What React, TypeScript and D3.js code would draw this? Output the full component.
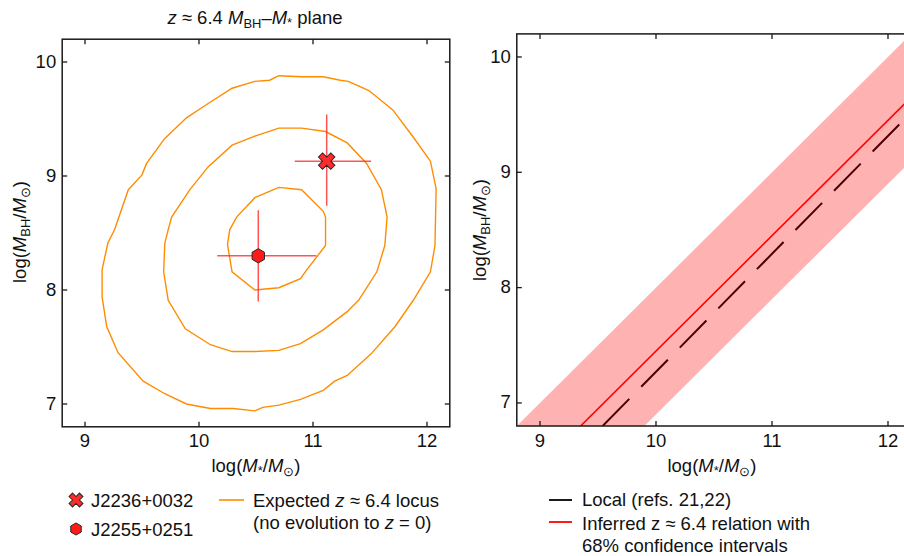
import React from "react";
import * as d3 from "d3";

const FONT = "'Liberation Sans', Arial, Helvetica, sans-serif";
const FS = 18.5;

const xDomain: [number, number] = [8.8, 12.2];
const yDomain: [number, number] = [6.8, 10.2];
const xTicks = [9, 10, 11, 12];
const yTicks = [7, 8, 9, 10];

// Orange contours (log M*, log MBH)
const outerContour: [number, number][] = [
  [9.38, 8.88], [9.5, 9.01], [9.54, 9.11], [9.7, 9.33], [9.89, 9.51], [10.04, 9.61],
  [10.29, 9.77], [10.49, 9.83], [10.62, 9.84], [10.7, 9.88], [10.9, 9.87], [11.09, 9.87],
  [11.24, 9.84], [11.31, 9.83], [11.49, 9.75], [11.7, 9.58], [11.88, 9.34], [12.03, 9.13],
  [12.08, 8.89], [12.07, 8.39], [12.03, 8.16], [11.88, 7.91], [11.72, 7.68], [11.51, 7.44],
  [11.3, 7.25], [11.19, 7.2], [11.09, 7.12], [10.89, 7.04], [10.7, 6.99], [10.56, 6.97],
  [10.49, 6.94], [10.3, 6.96], [10.1, 6.96], [9.89, 7.0], [9.7, 7.09], [9.51, 7.2],
  [9.29, 7.45], [9.19, 7.68], [9.15, 7.94], [9.15, 8.18], [9.2, 8.41], [9.26, 8.53],
];
const middleContour: [number, number][] = [
  [9.76, 8.64], [9.92, 8.88], [10.08, 9.08], [10.29, 9.27], [10.49, 9.35], [10.7, 9.42],
  [10.9, 9.42], [11.11, 9.39], [11.3, 9.29], [11.47, 9.11], [11.6, 8.88], [11.65, 8.64],
  [11.63, 8.39], [11.56, 8.16], [11.4, 7.91], [11.3, 7.81], [11.09, 7.65], [10.89, 7.53],
  [10.7, 7.47], [10.49, 7.46], [10.29, 7.46], [10.1, 7.52], [9.88, 7.66], [9.73, 7.91],
  [9.69, 8.16], [9.7, 8.41], [9.73, 8.53],
];
const innerContour: [number, number][] = [
  [10.27, 8.53], [10.33, 8.64], [10.49, 8.81], [10.7, 8.9], [10.9, 8.88], [11.09, 8.69],
  [11.11, 8.64], [11.11, 8.53], [11.11, 8.39], [10.94, 8.17], [10.89, 8.1], [10.7, 8.02],
  [10.49, 8.0], [10.29, 8.16], [10.25, 8.4],
];
const contours = [outerContour, middleContour, innerContour];

// Quasars
const quasarNames = ["J2236+0032", "J2255+0251"];
const quasarSymbols = ["x", "hex"];
const quasarMstar = [11.12, 10.52];
const quasarMbh = [9.13, 8.3];
const quasarMstarLo = [10.84, 10.16];
const quasarMstarHi = [11.51, 11.03];
const quasarMbhLo = [8.74, 7.9];
const quasarMbhHi = [9.54, 8.7];

// Right panel relations
const bandX = [8.8, 12.2];
const bandLower = [5.7, 9.1];
const bandUpper = [6.8, 10.2];
const localX = [9.54, 12.2];
const localY = [6.8, 9.52];
const inferredX = [9.35, 12.2];
const inferredY = [6.8, 9.65];

const ORANGE = "#ff8c00";
const RED = "#ff0000";

const leftX = d3.scaleLinear().domain(xDomain).range([62.2, 449.8]);
const leftY = d3.scaleLinear().domain(yDomain).range([426.8, 39.2]);
const rightX = d3.scaleLinear().domain(xDomain).range([516.8, 911.2]);
const rightY = d3.scaleLinear().domain(yDomain).range([426, 33.9]);

function xSymbolPath(size: number) {
  return d3.symbol().type(d3.symbolCross).size(size)()!;
}
function hexPath(r: number) {
  const pts: [number, number][] = d3.range(6).map((i) => {
    const a = (Math.PI / 3) * i - Math.PI / 2;
    return [r * Math.cos(a), r * Math.sin(a)];
  });
  return d3.line()(pts)! + "Z";
}

function Marker({ kind, x, y, s }: { kind: string; x: number; y: number; s: number }) {
  if (kind === "x") {
    return (
      <path
        d={xSymbolPath(s * s * 1.0)}
        transform={`translate(${x},${y}) rotate(45)`}
        fill="#ff2a2a"
        stroke="#2a2a2a"
        strokeWidth={1}
      />
    );
  }
  return (
    <path d={hexPath(s * 0.55)} transform={`translate(${x},${y})`} fill="#ff1a1a" stroke="#2a2a2a" strokeWidth={1} />
  );
}

function Frame({ xs, ys }: { xs: d3.ScaleLinear<number, number>; ys: d3.ScaleLinear<number, number> }) {
  const [x0, x1] = xs.range();
  const [y0, y1] = ys.range();
  const tl = 5;
  return (
    <g>
      <rect x={x0} y={y1} width={x1 - x0} height={y0 - y1} fill="none" stroke="#1a1a1a" strokeWidth={1.5} />
      {xTicks.map((t) => (
        <g key={"xt" + t}>
          <line x1={xs(t)} x2={xs(t)} y1={y0} y2={y0 - tl} stroke="#1a1a1a" strokeWidth={1.3} />
          <line x1={xs(t)} x2={xs(t)} y1={y1} y2={y1 + tl} stroke="#1a1a1a" strokeWidth={1.3} />
          <text x={xs(t)} y={y0 + 20.5} textAnchor="middle" fontSize={FS} fontFamily={FONT} fill="#111">
            {t}
          </text>
        </g>
      ))}
      {yTicks.map((t) => (
        <g key={"yt" + t}>
          <line x1={x0} x2={x0 + tl} y1={ys(t)} y2={ys(t)} stroke="#1a1a1a" strokeWidth={1.3} />
          <line x1={x1} x2={x1 - tl} y1={ys(t)} y2={ys(t)} stroke="#1a1a1a" strokeWidth={1.3} />
          <text x={x0 - 6} y={ys(t)} dy="0.3em" textAnchor="end" fontSize={FS} fontFamily={FONT} fill="#111">
            {t}
          </text>
        </g>
      ))}
    </g>
  );
}

function XLabel({ x, y }: { x: number; y: number }) {
  return (
    <text x={x} y={y} textAnchor="middle" fontSize={FS} fontFamily={FONT} fill="#111">
      log(<tspan fontStyle="italic">M</tspan>
      <tspan fontSize={FS * 0.7} dy="0.25em">*</tspan>
      <tspan dy={-0.25 * FS * 0.7}>/</tspan>
      <tspan fontStyle="italic">M</tspan>
      <tspan fontSize={FS * 0.7} dy="0.3em">⊙</tspan>
      <tspan dy={-0.3 * FS * 0.7}>)</tspan>
    </text>
  );
}

function YLabel({ x, y }: { x: number; y: number }) {
  return (
    <text
      transform={`translate(${x},${y}) rotate(-90)`}
      textAnchor="middle"
      fontSize={FS}
      fontFamily={FONT}
      fill="#111"
      dy="0.35em"
    >
      log(<tspan fontStyle="italic">M</tspan>
      <tspan fontSize={FS * 0.7} dy="0.3em">BH</tspan>
      <tspan dy={-0.3 * FS * 0.7}>/</tspan>
      <tspan fontStyle="italic">M</tspan>
      <tspan fontSize={FS * 0.7} dy="0.3em">⊙</tspan>
      <tspan dy={-0.3 * FS * 0.7}>)</tspan>
    </text>
  );
}

export default function App() {
  const contourLine = d3
    .line<[number, number]>()
    .x((d) => leftX(d[0]))
    .y((d) => leftY(d[1]))
    .curve(d3.curveLinearClosed);

  const bandArea = d3
    .area<number>()
    .x((_, i) => rightX(bandX[i]))
    .y0((_, i) => rightY(bandLower[i]))
    .y1((_, i) => rightY(bandUpper[i]));

  const lineR = d3
    .line<[number, number]>()
    .x((d) => rightX(d[0]))
    .y((d) => rightY(d[1]));

  const localPts = localX.map((v, i) => [v, localY[i]] as [number, number]);
  const inferredPts = inferredX.map((v, i) => [v, inferredY[i]] as [number, number]);

  const [lx0, lx1] = leftX.range();
  const [ly0, ly1] = leftY.range();
  const [rx0, rx1] = rightX.range();
  const [ry0, ry1] = rightY.range();

  return (
    <svg
      width={904}
      height={556}
      style={{ position: "absolute", left: 0, top: 0, background: "#fff" }}
    >
      <defs>
        <clipPath id="clipL">
          <rect x={lx0} y={ly1} width={lx1 - lx0} height={ly0 - ly1} />
        </clipPath>
        <clipPath id="clipR">
          <rect x={rx0} y={ry1} width={rx1 - rx0} height={ry0 - ry1} />
        </clipPath>
      </defs>
      <rect x={0} y={0} width={904} height={556} fill="#fff" />

      {/* Title */}
      <text x={255} y={24} textAnchor="middle" fontSize={FS} fontFamily={FONT} fill="#111">
        <tspan fontStyle="italic">z</tspan> ≈ 6.4 <tspan fontStyle="italic">M</tspan>
        <tspan fontSize={FS * 0.7} dy="0.3em">BH</tspan>
        <tspan dy={-0.3 * FS * 0.7}>–</tspan>
        <tspan fontStyle="italic">M</tspan>
        <tspan fontSize={FS * 0.7} dy="0.25em">*</tspan>
        <tspan dy={-0.25 * FS * 0.7}> plane</tspan>
      </text>

      {/* Left panel */}
      <g clipPath="url(#clipL)">
        {contours.map((c, i) => (
          <path key={i} d={contourLine(c)!} fill="none" stroke={ORANGE} strokeWidth={1.4} />
        ))}
        {quasarNames.map((n, i) => (
          <g key={n}>
            <line
              x1={leftX(quasarMstarLo[i])}
              x2={leftX(quasarMstarHi[i])}
              y1={leftY(quasarMbh[i])}
              y2={leftY(quasarMbh[i])}
              stroke="#ff2a2a"
              strokeOpacity={0.8}
              strokeWidth={1.5}
            />
            <line
              x1={leftX(quasarMstar[i])}
              x2={leftX(quasarMstar[i])}
              y1={leftY(quasarMbhLo[i])}
              y2={leftY(quasarMbhHi[i])}
              stroke="#ff2a2a"
              strokeOpacity={0.8}
              strokeWidth={1.5}
            />
          </g>
        ))}
        {quasarNames.map((n, i) => (
          <Marker key={n} kind={quasarSymbols[i]} x={leftX(quasarMstar[i])} y={leftY(quasarMbh[i])} s={13} />
        ))}
      </g>
      <Frame xs={leftX} ys={leftY} />
      <XLabel x={256} y={472} />
      <YLabel x={20} y={232} />

      {/* Right panel */}
      <g clipPath="url(#clipR)">
        <path
          d={lineR(localPts)!}
          fill="none"
          stroke="#000"
          strokeWidth={2}
          strokeDasharray="38 17"
        />
        <path d={bandArea(bandX)!} fill={RED} fillOpacity={0.3} />
        <path d={lineR(inferredPts)!} fill="none" stroke={RED} strokeWidth={1.6} />
      </g>
      <Frame xs={rightX} ys={rightY} />
      <XLabel x={712} y={472} />
      <YLabel x={480} y={230} />

      {/* Left legend */}
      {quasarNames.map((n, i) => (
        <g key={"lg" + n}>
          <Marker kind={quasarSymbols[i]} x={76} y={500 + i * 29} s={11} />
          <text x={91} y={507 + i * 29} fontSize={FS} fontFamily={FONT} fill="#111">
            {n}
          </text>
        </g>
      ))}
      <line x1={219} x2={244} y1={500} y2={500} stroke={ORANGE} strokeWidth={1.6} />
      <text x={253} y={506.5} fontSize={FS} fontFamily={FONT} fill="#111">
        Expected <tspan fontStyle="italic">z</tspan> ≈ 6.4 locus
      </text>
      <text x={253} y={528.5} fontSize={FS} fontFamily={FONT} fill="#111">
        (no evolution to <tspan fontStyle="italic">z</tspan> = 0)
      </text>

      {/* Right legend */}
      <line x1={549} x2={572} y1={500} y2={500} stroke="#000" strokeWidth={1.8} />
      <text x={582} y={505.5} fontSize={FS} fontFamily={FONT} fill="#111">
        Local (refs. 21,22)
      </text>
      <line x1={549} x2={572} y1={522} y2={522} stroke={RED} strokeWidth={1.8} />
      <text x={582} y={530} fontSize={FS} fontFamily={FONT} fill="#111">
        Inferred z ≈ 6.4 relation with
      </text>
      <text x={582} y={552} fontSize={FS} fontFamily={FONT} fill="#111">
        68% confidence intervals
      </text>
    </svg>
  );
}
